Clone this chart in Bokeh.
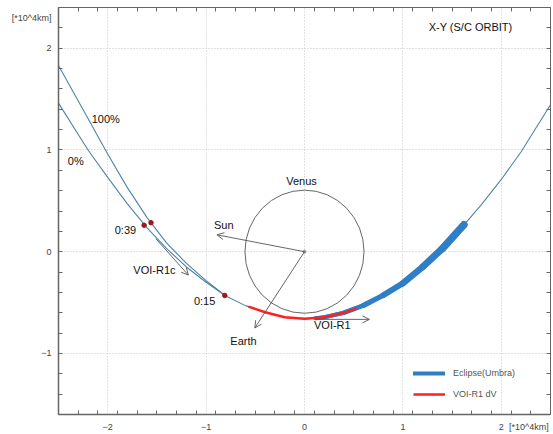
from bokeh.plotting import figure
from bokeh.models import (Arrow, OpenHead, LinearAxis, FixedTicker,
                          Legend, LegendItem, ColumnDataSource)
from bokeh.core.properties import value
from bokeh.embed import file_html
from bokeh.resources import INLINE

# ---- data (units: 10^4 km) ----
orbit0_x = [-2.5, -2.2, -2.0, -1.8, -1.6, -1.4, -1.2, -1.0, -0.8, -0.6, -0.4, -0.2, 0.0,
            0.2, 0.4, 0.6, 0.8, 1.0, 1.2, 1.4, 1.6, 1.8, 2.0, 2.2, 2.5]
orbit0_y = [1.46, 1.00, 0.73, 0.47, 0.235, 0.03, -0.15, -0.30, -0.435, -0.53, -0.595, -0.645, -0.66,
            -0.645, -0.60, -0.528, -0.428, -0.31, -0.15, 0.03, 0.24, 0.465, 0.71, 0.98, 1.445]

orbit100_x = [-2.5, -2.2, -2.0, -1.8, -1.6, -1.4, -1.2, -1.0, -0.8]
orbit100_y = [1.83, 1.31, 0.96, 0.63, 0.335, 0.085, -0.115, -0.285, -0.435]

eclipse_x = [0.11, 0.2, 0.4, 0.6, 0.8, 1.0, 1.2, 1.4, 1.62]
eclipse_y = [-0.655, -0.645, -0.60, -0.528, -0.428, -0.31, -0.15, 0.03, 0.265]

dv_x = [-0.57, -0.4, -0.2, 0.0, 0.2, 0.4, 0.53]
dv_y = [-0.54, -0.595, -0.645, -0.66, -0.645, -0.60, -0.56]

dot_x = [-1.63, -1.56, -0.81]
dot_y = [0.26, 0.285, -0.43]

venus_radius = 0.605

arrow_names = ["Sun", "Earth", "VOI-R1", "VOI-R1c"]
arrow_x0 = [0.0, 0.0, 0.11, -1.51]
arrow_y0 = [0.0, 0.0, -0.665, 0.127]
arrow_x1 = [-0.89, -0.505, 0.66, -1.18]
arrow_y1 = [0.166, -0.75, -0.665, -0.23]

text_labels = ["Venus", "Sun", "Earth", "VOI-R1", "VOI-R1c", "0:39", "0:15", "100%", "0%"]
text_x = [-0.03, -0.82, -0.62, 0.283, -1.525, -1.82, -1.015, -2.02, -2.325]
text_y = [0.695, 0.265, -0.875, -0.72, -0.18, 0.215, -0.485, 1.30, 0.89]

title_text = "X-Y (S/C ORBIT)"
unit_text = "[*10^4km]"
x_ticks = [-2, -1, 0, 1, 2]
y_ticks = [-1, 0, 1, 2]
x_unit_at = 2.28
y_unit_at = 2.3

FONT = "Liberation Sans"
X0, X1, Y0, Y1 = -2.5, 2.5, -1.6, 2.4

p = figure(width=553, height=434, x_range=(X0, X1), y_range=(Y0, Y1),
           output_backend="svg", toolbar_location=None,
           min_border_left=58, min_border_right=3, min_border_top=7, min_border_bottom=18)
p.background_fill_color = "white"
p.border_fill_color = "white"
p.outline_line_color = "#666666"
p.outline_line_width = 1

x_minor = [round(X0 + 0.2 * i, 2) for i in range(1, int(round((X1 - X0) / 0.2)))]
y_minor = [round(Y0 + 0.2 * i, 2) for i in range(1, int(round((Y1 - Y0) / 0.2)))]

def style_axis(ax, majors, minors, overrides=None):
    ax.ticker = FixedTicker(ticks=majors, minor_ticks=minors)
    ax.major_tick_in = 0
    ax.major_tick_out = 0
    ax.minor_tick_in = 4
    ax.minor_tick_out = 0
    ax.axis_line_color = "#666666"
    ax.minor_tick_line_color = "#666666"
    ax.major_label_text_font = FONT
    ax.major_label_text_font_size = "9px"
    ax.major_label_text_color = "#444444"
    ax.major_label_standoff = 7
    if overrides:
        ax.major_label_overrides = overrides

for ax in p.xaxis:
    style_axis(ax, x_ticks + [x_unit_at], x_minor, {x_unit_at: unit_text})
    ax.axis_line_width = 1.5
for ax in p.yaxis:
    style_axis(ax, y_ticks + [y_unit_at], y_minor, {y_unit_at: unit_text})
    ax.axis_line_width = 1.5

top_ax = LinearAxis()
style_axis(top_ax, [], x_minor)
p.add_layout(top_ax, "above")
right_ax = LinearAxis()
style_axis(right_ax, [], y_minor)
p.add_layout(right_ax, "right")

p.xgrid.ticker = FixedTicker(ticks=x_ticks)
p.ygrid.ticker = FixedTicker(ticks=y_ticks)
for g in (p.xgrid, p.ygrid):
    g.grid_line_color = "#c4c4c4"
    g.grid_line_dash = "1 2"
    g.grid_line_width = 1

# Venus
p.ellipse(x=[0], y=[0], width=[2 * venus_radius], height=[2 * venus_radius],
          fill_color=None, line_color="#555555", line_width=0.9)
p.scatter(x=[0], y=[0], size=3, color="#999999")

# orbits
p.line(orbit100_x, orbit100_y, line_color="#4d84a8", line_width=1.1)
p.line(orbit0_x, orbit0_y, line_color="#4d84a8", line_width=1.1)

ECL_COLOR = "#2f7ec6"
ecl = p.line(eclipse_x, eclipse_y, line_color=ECL_COLOR, line_width=4, line_cap="round")
# the eclipse band thickens along the arc
n_seg = len(eclipse_x) - 1
seg_widths = [3 + 4.5 * (i + 1) / n_seg for i in range(n_seg)]
p.segment(x0=eclipse_x[:-1], y0=eclipse_y[:-1], x1=eclipse_x[1:], y1=eclipse_y[1:],
          line_color=ECL_COLOR, line_width=seg_widths, line_cap="round")

dv = p.line(dv_x, dv_y, line_color="#ff2020", line_width=2.5)
p.scatter(dot_x, dot_y, size=4.5, color="#9c1a1a")

# arrows
asrc = ColumnDataSource(dict(x0=arrow_x0, y0=arrow_y0, x1=arrow_x1, y1=arrow_y1, name=arrow_names))
p.add_layout(Arrow(source=asrc, x_start="x0", y_start="y0", x_end="x1", y_end="y1",
                   line_color="#555555", line_width=0.9,
                   end=OpenHead(size=7, line_color="#555555", line_width=0.9)))

# text labels
p.text(x=text_x, y=text_y, text=text_labels, text_font=value(FONT), text_font_size="11px",
       text_color="#111111", text_align="center", text_baseline="middle")
p.text(x=[1.687], y=[2.205], text=[title_text], text_font=value(FONT), text_font_size="11px",
       text_color="#111111", text_align="center", text_baseline="middle")

legend = Legend(items=[LegendItem(label="Eclipse(Umbra)", renderers=[ecl]),
                       LegendItem(label="VOI-R1 dV", renderers=[dv])],
                location=(350, 8), border_line_alpha=0, background_fill_alpha=0,
                label_text_font=FONT, label_text_font_size="9px", label_text_color="#555555",
                glyph_width=32, glyph_height=14, label_height=14, spacing=7, padding=5,
                label_standoff=8, margin=0)
p.add_layout(legend)

open("out.html", "w").write(file_html(p, INLINE))
